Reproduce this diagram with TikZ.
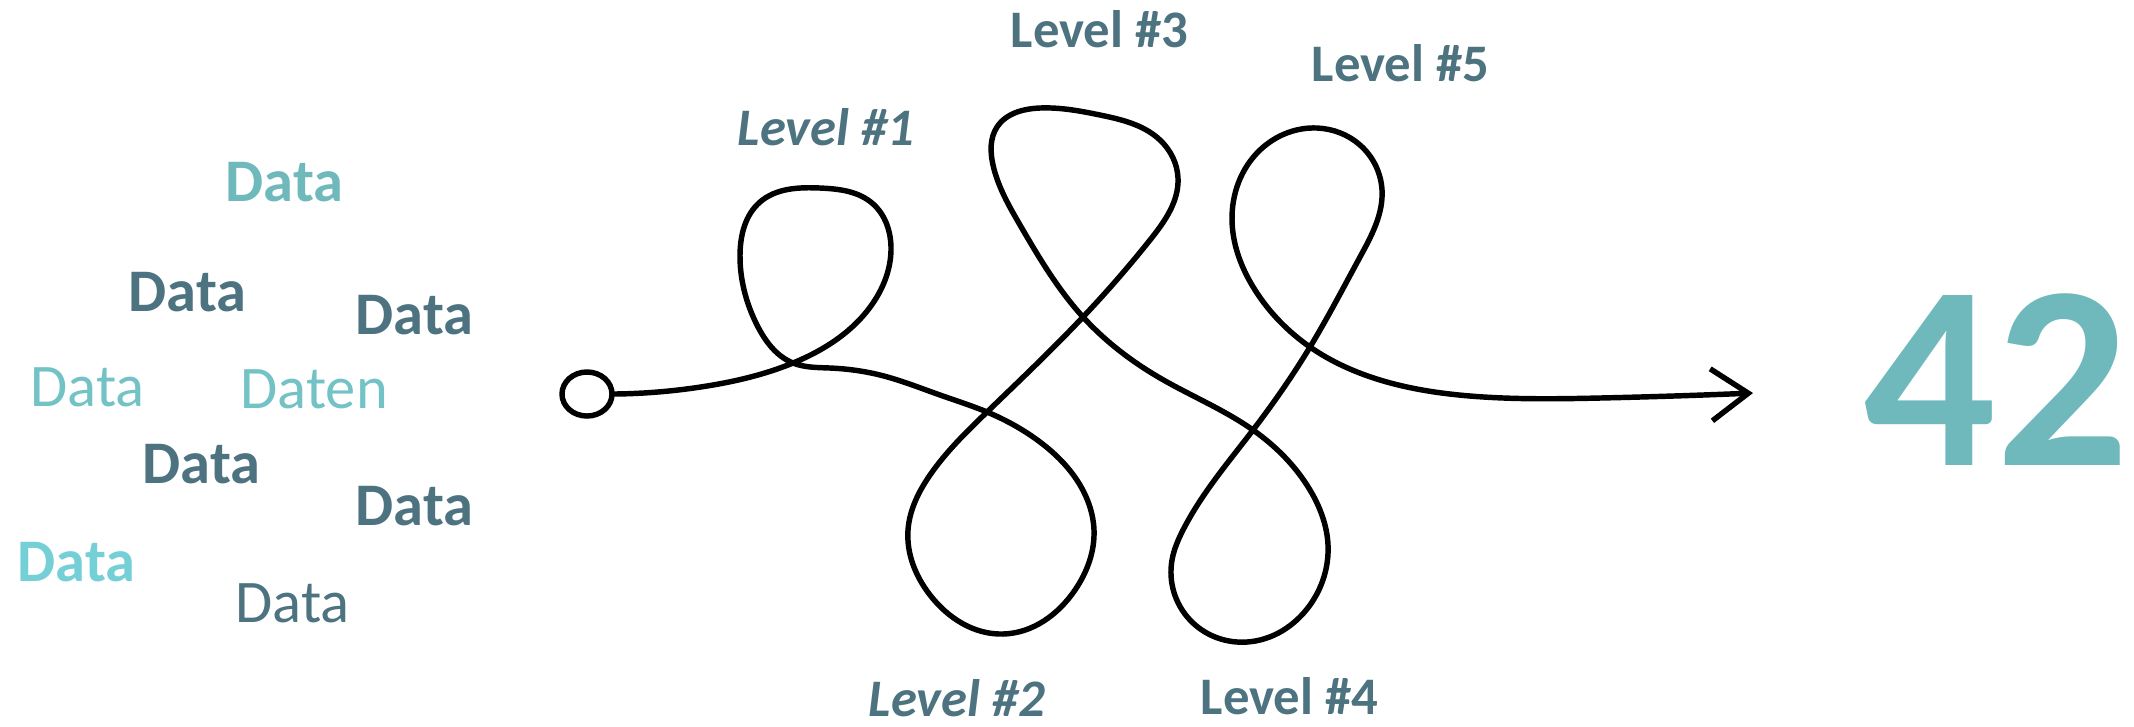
\documentclass[tikz,border=0pt]{standalone}
\usepackage{fontspec}
\setmainfont{Carlito}
\usetikzlibrary{shapes.geometric,arrows.meta,hobby}

\definecolor{slate}{HTML}{4E7380}
\definecolor{tealdark}{HTML}{6FB9BD}
\definecolor{tealsoft}{HTML}{72C2C6}
\definecolor{aqua}{HTML}{74CFD6}

\tikzset{
  word/.style={anchor=base west, inner sep=0pt, font=\fontsize{17.2}{20}\selectfont},
  lvl/.style={anchor=base west, inner sep=0pt, text=slate, font=\fontsize{15}{18}\selectfont\bfseries},
  trail/.style={line width=1.55pt, line cap=round, line join=round},
}

\begin{document}
\begin{tikzpicture}[x=0.01cm, y=-0.01cm]
		\useasboundingbox (0,0) rectangle (2134,726);

		% the pile of data words
		\node [word, text=tealdark, font=\fontsize{17.2}{20}\selectfont\bfseries] (d1) at (225,201) {Data};
		\node [word, text=slate, font=\fontsize{17.2}{20}\selectfont\bfseries] (d2) at (128,311) {Data};
		\node [word, text=slate, font=\fontsize{17.2}{20}\selectfont\bfseries] (d3) at (355,334) {Data};
		\node [word, text=tealsoft] (d4) at (30,406) {Data};
		\node [word, text=tealsoft] (d5) at (240,408) {Daten};
		\node [word, text=slate, font=\fontsize{17.2}{20}\selectfont\bfseries] (d6) at (142,483) {Data};
		\node [word, text=slate, font=\fontsize{17.2}{20}\selectfont\bfseries] (d7) at (355,525) {Data};
		\node [word, text=aqua, font=\fontsize{17.2}{20}\selectfont\bfseries] (d8) at (17,581) {Data};
		\node [word, text=slate] (d9) at (235,622) {Data};

		% start and goal
		\node [draw, ellipse, line width=1.55pt, minimum width=0.5cm, minimum height=0.44cm, inner sep=0pt] (start) at (587,394) {};
		\coordinate (goal) at (1753,393);
		\node [anchor=base west, inner sep=0pt, text=tealdark, font=\fontsize{74.5}{80}\selectfont\bfseries] (answer) at (1863,465) {42};

		% the winding road through five levels
		\draw [trail, use Hobby shortcut, -{Straight Barb[length=0.37cm, width=0.52cm, line width=1.55pt]}]
			(start.east) .. (707,386) .. (793,363) .. (873,303) .. (891,250) .. (872,203) .. (820,188)
			.. (760,202) .. (740,255) .. (757,325) .. (793,363) .. (830,368) .. (880,375) .. (940,395)
			.. (987,412) .. (1040,442) .. (1080,485) .. (1094,530) .. (1075,590) .. (1003,634)
			.. (930,595) .. (908,530) .. (930,475) .. (987,412) .. (1083,317) .. (1150,240)
			.. (1178,178) .. (1160,140) .. (1100,115) .. (1040,108) .. (997,127) .. (993,165)
			.. (1020,225) .. (1083,317) .. (1160,378) .. (1253,430) .. (1310,490) .. (1328,545)
			.. (1310,605) .. (1247,642) .. (1190,620) .. (1172,560) .. (1183,530) .. (1253,430)
			.. (1310,347) .. (1360,257) .. (1382,190) .. (1360,145) .. (1317,128) .. (1260,150)
			.. (1232,220) .. (1255,290) .. (1310,347) .. (1380,380) .. (1470,396) .. (1600,398)
			.. (goal);

		% level labels
		\node [lvl, font=\fontsize{15}{18}\selectfont\bfseries\itshape] (l1) at (737,145) {Level \#1};
		\node [lvl, font=\fontsize{15}{18}\selectfont\bfseries\itshape] (l2) at (868,716) {Level \#2};
		\node [lvl] (l3) at (1010,47) {Level \#3};
		\node [lvl] (l4) at (1200,714) {Level \#4};
		\node [lvl] (l5) at (1311,81) {Level \#5};
	\end{tikzpicture}
\end{document}
